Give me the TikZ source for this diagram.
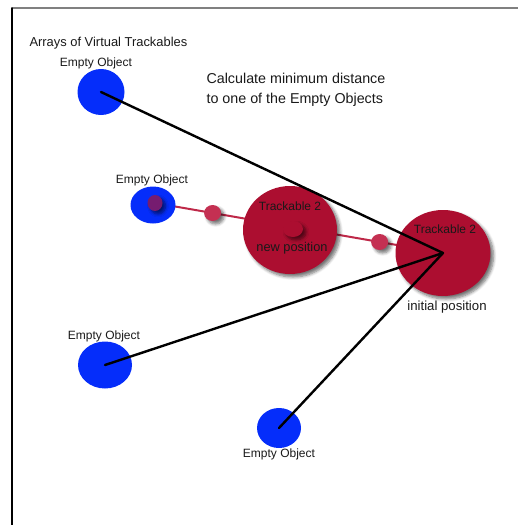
\documentclass[tikz,border=0pt]{standalone}
\usepackage{fontspec}
\setmainfont{Liberation Sans}
\usetikzlibrary{shapes.geometric,shadows.blur}
\definecolor{objblue}{RGB}{5,45,250}
\definecolor{trkred}{RGB}{172,14,48}
\definecolor{dotred}{RGB}{196,48,82}
\definecolor{trailred}{RGB}{190,40,72}
\definecolor{purpledot}{RGB}{118,28,112}
\tikzset{
  blob/.style={ellipse, inner sep=0pt, draw=none},
  soft/.style={blur shadow={shadow xshift=3pt, shadow yshift=-3pt, shadow blur steps=6, shadow blur radius=3pt, shadow opacity=55}},
  lbl/.style={font=\fontsize{12}{14}\selectfont, text=black!90},
  link/.style={line width=2.4pt, black},
  trail/.style={line width=2pt, trailred}
}
\begin{document}
\begin{tikzpicture}[x=1pt, y=-1pt, line join=round, line cap=round]
  \useasboundingbox (0,0) rectangle (518,525);
  \draw[gray, line width=1.5pt] (12,8) -- (518,8);
  \draw[black, line width=1.5pt] (12,8) -- (12,525);

  \coordinate (oldc) at (155,203);
  \coordinate (initc) at (443,253);

  % path of the trackable
  \draw[trail] (oldc) -- (initc)
    node[blob, fill=dotred, soft, pos=0.2, minimum width=17, minimum height=16] (d1) {}
    node[blob, fill=dotred, soft, pos=0.78, minimum width=17, minimum height=16] (d2) {};

  % virtual trackables
  \node[blob, fill=objblue, minimum width=47, minimum height=46] (e1) at (101,92) {};
  \node[blob, fill=objblue, minimum width=45, minimum height=37] (e2) at (153,205) {};
  \node[blob, fill=objblue, minimum width=54, minimum height=47] (e3) at (105,365) {};
  \node[blob, fill=objblue, minimum width=44, minimum height=40] (e4) at (279,428) {};

  % trackable, old and new place
  \node[blob, fill=purpledot, soft, minimum width=15, minimum height=16] (p2) at (oldc) {};
  \node[blob, fill=trkred, soft, minimum width=95, minimum height=86] (t1) at (initc) {};
  \node[blob, fill=trkred, soft, minimum width=94, minimum height=88] (t2) at (290,230) {};
  \node[blob, fill=trkred, soft, minimum width=20, minimum height=16] (n2) at (293,229) {};

  \draw[link] (e1.center) -- (t1.center);
  \draw[link] (e3.center) -- (t1.center);
  \draw[link] (e4.center) -- (t1.center);

  % texts
  \node[lbl, font=\fontsize{12.9}{15}\selectfont, anchor=west] (title) at (26,43) {Arrays of Virtual Trackables};
  \node[lbl, font=\fontsize{14.3}{20}\selectfont, anchor=west, align=left] (calc) at (203,90)
    {Calculate minimum distance\\to one of the Empty Objects};
  \node[lbl] (l1) at (96,63) {Empty Object};
  \node[lbl] (l2) at (152,180) {Empty Object};
  \node[lbl] (l3) at (104,336) {Empty Object};
  \node[lbl] (l4) at (279,454) {Empty Object};
  \node[lbl] (t2name) at (290,206) {Trackable 2};
  \node[lbl, font=\fontsize{12.8}{15}\selectfont] (t2pos) at (292,248) {new position};
  \node[lbl] (t1name) at (445,229) {Trackable 2};
  \node[lbl, font=\fontsize{13.2}{15}\selectfont] (t1pos) at (447,307) {initial position};
\end{tikzpicture}
\end{document}
